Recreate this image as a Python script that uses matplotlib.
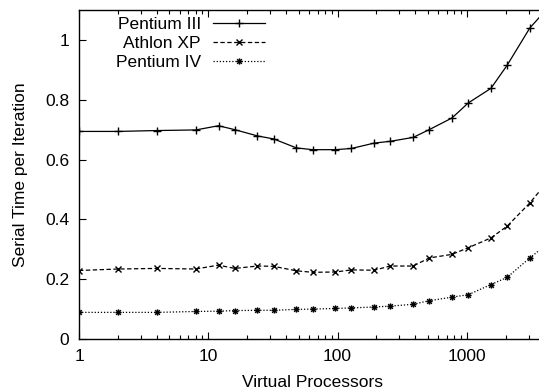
import matplotlib
matplotlib.use('Agg')
import matplotlib.pyplot as plt
from matplotlib.path import Path
from matplotlib.ticker import FixedLocator, LogLocator, NullFormatter

plt.rcParams['font.family'] = ['Liberation Sans', 'DejaVu Sans']

procs = [1, 2, 4, 8, 12, 16, 24, 32, 48, 64, 96, 128, 192, 256, 384, 512,
         768, 1024, 1536, 2048, 3072, 4096]
pentium3 = [0.694, 0.694, 0.697, 0.699, 0.713, 0.700, 0.679, 0.669, 0.639, 0.633,
            0.633, 0.637, 0.655, 0.661, 0.674, 0.700, 0.739, 0.789, 0.838, 0.915,
            1.040, 1.100]
athlon = [0.229, 0.234, 0.236, 0.234, 0.247, 0.236, 0.244, 0.243, 0.228, 0.223,
          0.224, 0.231, 0.230, 0.244, 0.244, 0.271, 0.283, 0.305, 0.338, 0.377,
          0.455, 0.520]
pentium4 = [0.089, 0.089, 0.089, 0.092, 0.093, 0.095, 0.096, 0.096, 0.099, 0.100,
            0.102, 0.104, 0.107, 0.110, 0.116, 0.128, 0.140, 0.148, 0.182, 0.206,
            0.271, 0.315]

# gnuplot-style asterisk: plus and cross on top of each other
star = Path([(-1, 0), (1, 0), (0, -1), (0, 1),
             (-0.75, -0.75), (0.75, 0.75), (-0.75, 0.75), (0.75, -0.75)],
            [Path.MOVETO, Path.LINETO] * 4)

fig = plt.figure(figsize=(5.39, 3.90), dpi=100)
# right border falls just outside the picture, like the cropped original
ax = fig.add_axes([79 / 539, 51 / 390, 467 / 539, 329 / 390])

ax.plot(procs, pentium3, color='black', lw=0.9, marker='+', ms=6, mew=1.0,
        label='Pentium III')
ax.plot(procs, athlon, color='black', lw=0.9, dashes=(3.5, 2), marker='x', ms=4.5,
        mew=1.0, label='Athlon XP')
ax.plot(procs, pentium4, color='black', lw=0.9, dashes=(1, 1.5), marker=star,
        ms=4.5, mew=1.0, mfc='none', label='Pentium IV')

ax.set_xscale('log')
ax.set_xlim(1, 4096)
ax.set_ylim(0, 1.1)
ax.xaxis.set_major_locator(FixedLocator([1, 10, 100, 1000]))
ax.xaxis.set_minor_locator(LogLocator(base=10, subs=range(2, 10), numticks=20))
ax.xaxis.set_minor_formatter(NullFormatter())
ax.set_xticklabels(['1', '10', '100', '1000'])
ax.set_yticks([0, 0.2, 0.4, 0.6, 0.8, 1.0])
ax.set_yticklabels(['0', '0.2', '0.4', '0.6', '0.8', '1'])

ax.tick_params(which='both', direction='in', top=True, right=True,
               labelsize=12.5, width=0.8)
ax.tick_params(which='major', length=5, pad=7)
ax.tick_params(which='minor', length=3)
for s in ax.spines.values():
    s.set_linewidth(1.0)

ax.set_xlabel('Virtual Processors', fontsize=12.5, labelpad=8)
ax.set_ylabel('Serial Time per Iteration', fontsize=12.5, labelpad=12)

fig.legend(loc='upper right', bbox_to_anchor=(265 / 539, 1 - 17 / 390),
           frameon=False, markerfirst=False, fontsize=12.5, handlelength=3.0,
           handletextpad=0.7, labelspacing=0.22, borderpad=0, borderaxespad=0)

fig.savefig('out.png', dpi=100)
